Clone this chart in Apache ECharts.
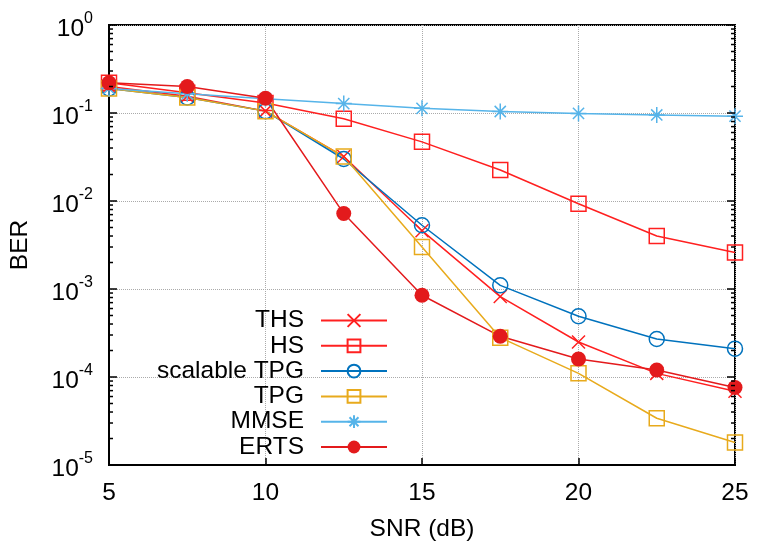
<!DOCTYPE html>
<html>
<head>
<meta charset="utf-8">
<script src="https://cdn.jsdelivr.net/npm/echarts@6/dist/echarts.min.js"></script>
<style>
  html, body { margin: 0; padding: 0; background: #fff; }
  #chart { width: 781px; height: 547px; }
</style>
</head>
<body>
<div id="chart"></div>
<script>
const snr = [5, 7.5, 10, 12.5, 15, 17.5, 20, 22.5, 25]
const ths = [0.2, 0.155, 0.105, 0.032, 0.0046, 0.00082, 0.00025, 0.00011, 0.000069]
const hs = [0.22, 0.17, 0.13, 0.086, 0.047, 0.0225, 0.0093, 0.0040, 0.0026]
const scalableTpg = [0.19, 0.15, 0.105, 0.030, 0.0053, 0.0011, 0.00049, 0.00027, 0.00021]
const tpg = [0.19, 0.15, 0.105, 0.032, 0.0030, 0.00028, 0.00011, 0.000034, 0.000018]
const mmse = [0.19, 0.165, 0.145, 0.128, 0.113, 0.104, 0.099, 0.095, 0.092]
const erts = [0.22, 0.20, 0.147, 0.0072, 0.00085, 0.00029, 0.00016, 0.00012, 0.000076]
const xTicks = [5, 10, 15, 20, 25]
const yDecades = [0, -1, -2, -3, -4, -5]
const minorMult = [2, 3, 4, 5, 6, 7, 8, 9]

const font = 'Liberation Sans, Arial, sans-serif'
const fs = 24.5
const red = '#ff2020'
const darkRed = '#e31a1c'

const pathX = 'path://M0,0L10,10M10,0L0,10'
const pathStar = 'path://M5,0L5,10M0,5L10,5M1.5,1.5L8.5,8.5M8.5,1.5L1.5,8.5'

// tick marks on the log axis (minor on both sides, major on the right)
let tickMarks = []
yDecades.forEach(e => {
  tickMarks.push([Math.pow(10, e), 8])
  if (e > -5) minorMult.forEach(m => tickMarks.push([m * Math.pow(10, e - 1), 4]))
})

function pairs(ys) {
  return snr.map((x, i) => [x, ys[i]])
}

function lineSeries(name, ys, color, symbol, size, filled) {
  return {
    name: name,
    type: 'line',
    data: pairs(ys),
    symbol: symbol,
    symbolSize: size,
    lineStyle: { color: color, width: 1.5 },
    itemStyle: filled
      ? { color: color, borderColor: color, borderWidth: 0 }
      : { color: 'transparent', borderColor: color, borderWidth: 1.5 },
    emphasis: { disabled: true },
    animation: false
  }
}

const chart = echarts.init(document.getElementById('chart'))
chart.setOption({
  animation: false,
  textStyle: { fontFamily: font },
  grid: {
    left: 108, right: 46, top: 25, bottom: 82,
    show: true, borderColor: '#000', borderWidth: 2
  },
  legend: {
    data: ['THS', 'HS', 'scalable TPG', 'TPG', 'MMSE', 'ERTS'],
    orient: 'vertical',
    align: 'right',
    right: 393,
    top: 308,
    padding: 0,
    itemWidth: 66,
    itemHeight: 16,
    itemGap: 0.3,
    textStyle: {
      fontSize: fs, color: '#000', fontFamily: font,
      width: 160, align: 'right', padding: [0, 12, 0, 0]
    }
  },
  xAxis: {
    type: 'value',
    min: 5, max: 25, interval: 5,
    name: 'SNR (dB)',
    nameLocation: 'middle',
    nameGap: 52,
    nameTextStyle: { fontSize: fs, color: '#000' },
    axisLine: { show: true, lineStyle: { color: '#000', width: 2 } },
    axisTick: { inside: true, length: 7, lineStyle: { color: '#000', width: 1.5 } },
    axisLabel: { fontSize: fs, color: '#000', margin: 16 },
    splitLine: { show: true, lineStyle: { color: '#aaa', type: 'dotted', width: 1 } }
  },
  yAxis: {
    type: 'log',
    logBase: 10,
    min: 1e-5, max: 1,
    name: 'BER',
    nameLocation: 'middle',
    nameRotate: 90,
    nameGap: 76,
    nameTextStyle: { fontSize: fs, color: '#000' },
    axisLine: { show: true, lineStyle: { color: '#000', width: 2 } },
    axisTick: { inside: true, length: 8, lineStyle: { color: '#000', width: 1.5 } },
    axisLabel: {
      margin: 16,
      formatter: v => '{a|10}{b|' + Math.round(Math.log10(v)) + '}',
      rich: {
        a: { fontSize: fs, color: '#000', fontFamily: font, lineHeight: 28, padding: [8, 0, 0, 0] },
        b: { fontSize: 16, color: '#000', fontFamily: font, verticalAlign: 'top', lineHeight: 16 }
      }
    },
    splitLine: { show: true, lineStyle: { color: '#aaa', type: 'dotted', width: 1 } }
  },
  series: [
    {
      type: 'custom',
      silent: true,
      clip: false,
      z: 5,
      data: tickMarks,
      renderItem: (params, api) => {
        const v = api.value(0)
        const len = api.value(1)
        const pl = api.coord([5, v])
        const pr = api.coord([25, v])
        const style = { stroke: '#000', lineWidth: 1.5 }
        const kids = [{ type: 'line', shape: { x1: pr[0] - len, y1: pr[1], x2: pr[0], y2: pr[1] }, style: style }]
        if (len < 8) kids.push({ type: 'line', shape: { x1: pl[0], y1: pl[1], x2: pl[0] + len, y2: pl[1] }, style: style })
        return { type: 'group', children: kids }
      },
      encode: { x: -1, y: 0 }
    },
    lineSeries('THS', ths, red, pathX, 13, false),
    lineSeries('HS', hs, red, 'rect', 15, false),
    lineSeries('scalable TPG', scalableTpg, '#0072bd', 'circle', 15, false),
    lineSeries('TPG', tpg, '#e8aa1c', 'rect', 15, false),
    lineSeries('MMSE', mmse, '#56b4e9', pathStar, 16, false),
    lineSeries('ERTS', erts, darkRed, 'circle', 15, true)
  ]
})
</script>
</body>
</html>
